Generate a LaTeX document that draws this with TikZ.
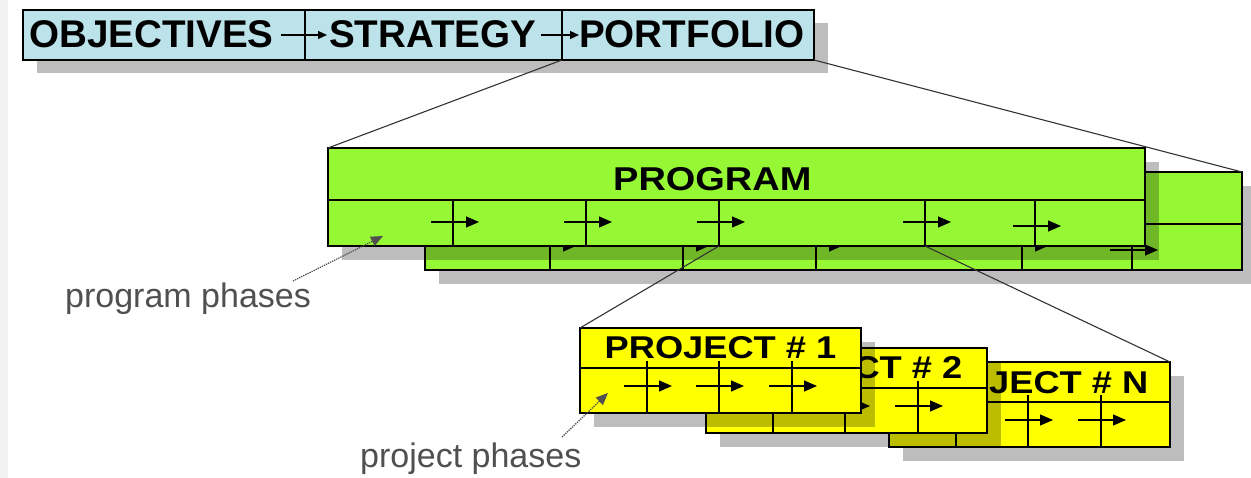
\documentclass[tikz,border=0pt]{standalone}
\usepackage{fontspec}
\setmainfont{Liberation Sans}
\newfontfamily\widefont[FakeStretch=1.15]{Liberation Sans}
\usetikzlibrary{arrows.meta}
\definecolor{barblue}{RGB}{188,227,234}
\definecolor{proggreen}{RGB}{150,248,52}
\definecolor{projyellow}{RGB}{255,255,0}
\definecolor{labelgray}{RGB}{80,80,80}
\tikzset{
  shadowc/.style={fill=black, fill opacity=0.26},
  divider/.style={line width=1.2pt},
  phasearrow/.style={line width=1.2pt, -{Triangle[length=13pt,width=11pt]}},
  bararrow/.style={line width=1.2pt, -{Triangle[length=9pt,width=8pt]}},
  barbox/.style={draw, line width=2.4pt, fill=barblue, minimum width=791pt, minimum height=50pt, inner sep=0pt, outer sep=0pt, anchor=north west},
  progbox/.style={draw, line width=2.6pt, fill=proggreen, minimum width=817pt, minimum height=98pt, inner sep=0pt, outer sep=0pt, anchor=north west},
  projbox/.style={draw, line width=1.8pt, fill=projyellow, minimum width=281pt, minimum height=85pt, inner sep=0pt, outer sep=0pt, anchor=north west},
  bartext/.style={inner sep=0pt, anchor=base west, font=\fontsize{38.6}{40}\selectfont\bfseries},
  progtext/.style={inner sep=0pt, anchor=base west, font=\fontsize{33}{36}\selectfont\widefont\bfseries},
  projtext/.style={inner sep=0pt, anchor=base, font=\fontsize{31.5}{34}\selectfont\widefont\bfseries},
  connector/.style={line width=1.1pt, draw=black!80},
  notetext/.style={inner sep=0pt, anchor=base west, text=labelgray, font=\fontsize{34}{36}\selectfont},
  notearrow/.style={line width=1.3pt, draw=labelgray, densely dotted, -{Triangle[length=12pt,width=10pt]}},
}
\newcommand\programrow[1]{%
  \fill[shadowc] (342,162) rectangle (1159,260);
  \node[progbox] (#1) at (328,148) {};
  \draw[divider] (328,200) -- (1145,200);
  \foreach \xx/\yy in {453/222,586/222,719/222,925/222,1035/226} {
    \draw[divider] (\xx,200) -- (\xx,246);
    \draw[phasearrow] (\xx-22,\yy) -- (\xx+26,\yy);
  }
  \coordinate (#1-d3) at (719,246);
  \coordinate (#1-d4) at (925,246);
}
\newcommand\projectbox[2]{%
  \fill[shadowc] (14,14) rectangle (295,99);
  \node[projbox] (#1) at (0,0) {};
  \draw[divider] (0,40) -- (281,40);
  \foreach \xx in {67,139,212} {
    \draw[divider] (\xx,33) -- (\xx,85);
    \draw[phasearrow] (\xx-23,58) -- (\xx+25,58);
  }
  \node[projtext] (#1-t) at (140.5,31) {#2};
}
\begin{document}
\begin{tikzpicture}[x=1pt,y=-1pt]
\useasboundingbox (0,0) rectangle (1251,478);
\fill[white] (0,0) rectangle (1251,478);
\fill[black!5] (0,0) rectangle (8,478);

% top bar
\fill[shadowc] (37,23) rectangle (828,73);
\node[barbox] (topbar) at (23,10) {};
\draw[divider] (305,10) -- (305,60);
\draw[divider] (562,10) -- (562,60);
\coordinate (tb-d2) at (562,60);
\node[bartext] (obj) at (29,48) {OBJECTIVES};
\node[bartext] (str) at (329,48) {STRATEGY};
\node[bartext] (port) at (579,48) {PORTFOLIO};
\draw[bararrow] (281,35) -- (327,35);
\draw[bararrow] (541,35) -- (579,35);

% program boxes
\begin{scope}[shift={(97,24)}]
  \programrow{progback}
\end{scope}
\programrow{progfront}
\node[progtext] (progtitle) at (613,191) {PROGRAM};

% connectors from top bar
\draw[connector] (tb-d2) -- (progfront.north west);
\draw[connector] (topbar.south east) -- (progback.north east);

% projects
\begin{scope}[shift={(889,362)}]
  \projectbox{pN}{PROJECT \# N}
\end{scope}
\begin{scope}[shift={(706,348)}]
  \projectbox{p2}{PROJECT \# 2}
\end{scope}
\begin{scope}[shift={(580,328)}]
  \projectbox{p1}{PROJECT \# 1}
\end{scope}
\draw[connector] (progfront-d3) -- (p1.north west);
\draw[connector] (progfront-d4) -- (pN.north east);

% annotations
\node[notetext] (progphases) at (65,308) {program phases};
\coordinate (pp-from) at (293,281);
\coordinate (pp-to) at (383,236);
\draw[notearrow] (pp-from) -- (pp-to);
\node[notetext] (projphases) at (360,467) {project phases};
\coordinate (jp-from) at (562,437);
\coordinate (jp-to) at (608,393);
\draw[notearrow] (jp-from) -- (jp-to);
\end{tikzpicture}
\end{document}
